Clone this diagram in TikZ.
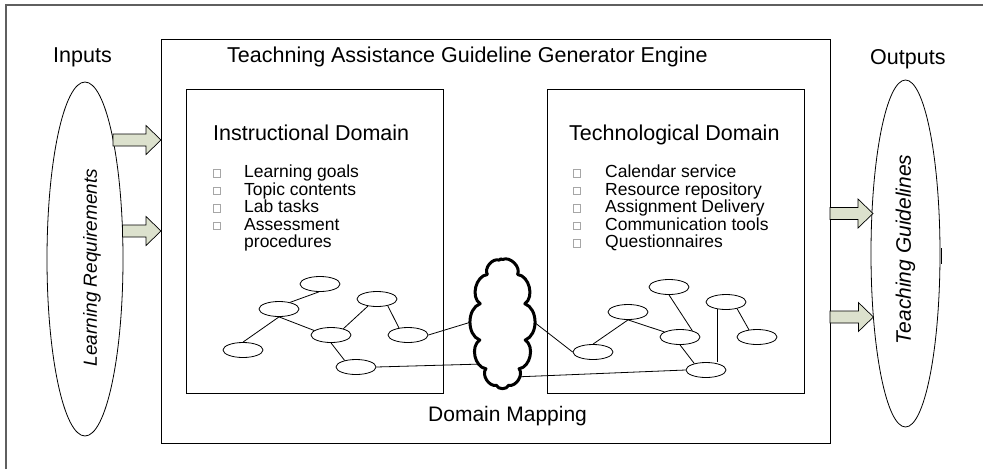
\documentclass[tikz,border=0pt]{standalone}
\usepackage{fontspec}
\setmainfont{Liberation Sans}
\usetikzlibrary{shapes.geometric}
\definecolor{arrowfill}{RGB}{220,225,205}
\definecolor{framegray}{RGB}{95,95,95}
\newcommand{\fatarrow}[3]{\draw[fat] (#1,#3-6) -- (#2-15,#3-6) -- (#2-15,#3-14.5) -- (#2,#3) -- (#2-15,#3+14.5) -- (#2-15,#3+6) -- (#1,#3+6) -- cycle;}
\begin{document}
\begin{tikzpicture}[x=1pt,y=-1pt,
  box/.style={draw, line width=0.9pt, inner sep=0, anchor=north west},
  gnode/.style={draw, ellipse, minimum width=40pt, minimum height=15pt, inner sep=0, line width=0.8pt},
  edge/.style={line width=0.8pt},
  lbl/.style={anchor=base west, inner sep=0, font=\fontsize{21.5}{24}\selectfont},
  item/.style={anchor=base west, inner sep=0, font=\fontsize{17.5}{18}\selectfont},
  sqb/.style={draw=black!35, minimum size=7.5pt, inner sep=0, line width=0.5pt},
  fat/.style={draw, fill=arrowfill, line width=0.7pt, line join=miter},
  rtxt/.style={rotate=90, inner sep=0, font=\itshape\fontsize{21}{24}\selectfont},
  cloudline/.style={draw, fill=white, line width=3pt, line join=round}]
\useasboundingbox (0,0) rectangle (983,469);
% outer frame
\draw[framegray, line width=1.2pt] (6,469) -- (6,5) -- (983,5);
% boxes
\node[box, minimum width=669pt, minimum height=404pt] (engine) at (161,39) {};
\node[box, minimum width=257pt, minimum height=304pt] (instr) at (186,89) {};
\node[box, minimum width=257pt, minimum height=304pt] (tech) at (547,89) {};
% input / output ellipses
\node[draw, ellipse, minimum width=76pt, minimum height=354pt, inner sep=0, line width=0.8pt] (lr) at (85,259) {};
\node[draw, ellipse, minimum width=69pt, minimum height=347pt, inner sep=0, line width=0.8pt] (rg) at (905.5,253.5) {};
\node[rtxt, font=\itshape\fontsize{19}{22}\selectfont] (lrt) at (92,267.5) {Learning Requirements};
\node[rtxt] (rgt) at (905.5,249.5) {Teaching Guidelines};
\draw[line width=0.7pt] (941.5,248) -- (941.5,264);
% fat arrows
\fatarrow{113}{161}{140}
\fatarrow{122.5}{161}{231}
\fatarrow{830}{873}{213.5}
\fatarrow{830}{873.4}{317}
% labels
\node[lbl] (inputs) at (53,62.7) {Inputs};
\node[lbl] (outputs) at (870,64) {Outputs};
\node[lbl] (title) at (227,62.7) {Teachning Assistance Guideline Generator Engine};
\node[lbl] (ih) at (213,140) {Instructional Domain};
\node[lbl] (th) at (569,140) {Technological Domain};
\node[lbl, font=\fontsize{21}{24}\selectfont] (dm) at (428,421) {Domain Mapping};
% lists
\foreach \i/\t in {0/Learning goals,1/Topic contents,2/Lab tasks,3/Assessment}{
  \node[sqb] (lb\i) at (216.5,173+17.6*\i) {};
  \node[item] (li\i) at (244,177.5+17.6*\i) {\t};
}
\node[item] (li4) at (244,177.5+17.6*4) {procedures};
\foreach \i/\t in {0/Calendar service,1/Resource repository,2/Assignment Delivery,3/Communication tools,4/Questionnaires}{
  \node[sqb] (rb\i) at (576.5,173+17.6*\i) {};
  \node[item] (ri\i) at (605,177.5+17.6*\i) {\t};
}
% connection points inside the cloud
\coordinate (ca) at (481,319);
\coordinate (cb) at (483,364);
\coordinate (cc) at (525,315);
\coordinate (cd) at (514,377);
% left graph
\node[gnode] (n1) at (320,284) {};
\node[gnode] (n2) at (279,309) {};
\node[gnode] (n3) at (377,299) {};
\node[gnode] (n4) at (331,335) {};
\node[gnode] (n5) at (408,335) {};
\node[gnode] (n6) at (243,350) {};
\node[gnode] (n7) at (356,367) {};
\draw[edge] (n2.31) -- (n1.262);
\draw[edge] (n2.south) -- (n6.north);
\draw[edge] (n2.south) -- (n4.165);
\draw[edge] (n4.27) -- (n3.218);
\draw[edge] (n3.328) -- (n5.142);
\draw[edge] (n4.south) -- (n7.150);
\draw[edge] (n5.east) -- (ca);
\draw[edge] (n7.east) -- (cb);
% right graph
\node[gnode] (m1) at (669,287) {};
\node[gnode] (m2) at (628,312) {};
\node[gnode] (m3) at (726,302) {};
\node[gnode] (m4) at (680,337) {};
\node[gnode] (m5) at (757,337) {};
\node[gnode] (m6) at (593,352) {};
\node[gnode] (m7) at (706,370) {};
\draw[edge] (cc) -- (m6.west);
\draw[edge] (m6.north) -- (m2.south);
\draw[edge] (m2.south) -- (m4.162);
\draw[edge] (m1.south) -- (m4.27);
\draw[edge] (m3.329) -- (m5.138);
\draw[edge] (m3.221) -- (m3.221 |- m7.north);
\draw[edge] (m4.south) -- (m7.151);
\draw[edge] (cd) -- (m7.west);
% cloud (domain mapping)
\path[cloudline]
  ({502.5+23.5*cos(-90)},{323.5+64*sin(-90)})
  to[bend left=70] ({502.5+23.5*cos(-50)},{323.5+64*sin(-50)})
  to[bend left=70] ({502.5+23.5*cos(-18)},{323.5+64*sin(-18)})
  to[bend left=70] ({502.5+23.5*cos(15)},{323.5+64*sin(15)})
  to[bend left=70] ({502.5+23.5*cos(45)},{323.5+64*sin(45)})
  to[bend left=70] ({502.5+23.5*cos(75)},{323.5+64*sin(75)})
  to[bend left=70] ({502.5+23.5*cos(105)},{323.5+64*sin(105)})
  to[bend left=70] ({502.5+23.5*cos(135)},{323.5+64*sin(135)})
  to[bend left=70] ({502.5+23.5*cos(165)},{323.5+64*sin(165)})
  to[bend left=70] ({502.5+23.5*cos(198)},{323.5+64*sin(198)})
  to[bend left=70] ({502.5+23.5*cos(230)},{323.5+64*sin(230)})
  to[bend left=70] ({502.5+23.5*cos(262)},{323.5+64*sin(262)})
  to[bend left=70] cycle;
\end{tikzpicture}
\end{document}
